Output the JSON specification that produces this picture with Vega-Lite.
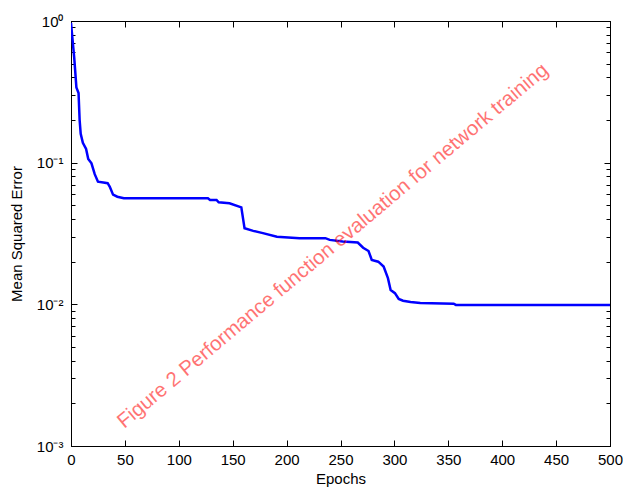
{
  "$schema": "https://vega.github.io/schema/vega-lite/v6.json",
  "width": 539,
  "height": 425,
  "autosize": {"type": "none"},
  "padding": {"left": 71, "top": 21, "right": 13, "bottom": 43},
  "background": "white",
  "config": {
    "view": {"stroke": "black", "strokeWidth": 1},
    "font": "Liberation Sans",
    "axis": {
      "labelFont": "Liberation Sans",
      "titleFont": "Liberation Sans",
      "labelFontSize": 15,
      "titleFontSize": 15,
      "titleFontWeight": "normal",
      "labelColor": "black",
      "titleColor": "black",
      "domainColor": "black",
      "tickColor": "black",
      "tickWidth": 1,
      "grid": false
    }
  },
  "datasets": {
    "curve": [
      {"epoch": 0, "mse": 0.97},
      {"epoch": 1, "mse": 0.8},
      {"epoch": 3, "mse": 0.55},
      {"epoch": 5, "mse": 0.34},
      {"epoch": 7, "mse": 0.31},
      {"epoch": 8, "mse": 0.2},
      {"epoch": 9, "mse": 0.16},
      {"epoch": 11, "mse": 0.138},
      {"epoch": 14, "mse": 0.125},
      {"epoch": 16, "mse": 0.106},
      {"epoch": 19, "mse": 0.099},
      {"epoch": 22, "mse": 0.083},
      {"epoch": 25, "mse": 0.0734},
      {"epoch": 30, "mse": 0.0725},
      {"epoch": 34, "mse": 0.0716},
      {"epoch": 36, "mse": 0.0676},
      {"epoch": 39, "mse": 0.0595},
      {"epoch": 43, "mse": 0.0575},
      {"epoch": 49, "mse": 0.0561},
      {"epoch": 127, "mse": 0.0561},
      {"epoch": 129, "mse": 0.0546},
      {"epoch": 135, "mse": 0.0546},
      {"epoch": 137, "mse": 0.0525},
      {"epoch": 147, "mse": 0.0517},
      {"epoch": 158, "mse": 0.0484},
      {"epoch": 161, "mse": 0.0344},
      {"epoch": 169, "mse": 0.033},
      {"epoch": 178, "mse": 0.0318},
      {"epoch": 191, "mse": 0.03},
      {"epoch": 212, "mse": 0.0293},
      {"epoch": 236, "mse": 0.0293},
      {"epoch": 240, "mse": 0.0285},
      {"epoch": 252, "mse": 0.0278},
      {"epoch": 266, "mse": 0.0273},
      {"epoch": 271, "mse": 0.0251},
      {"epoch": 276, "mse": 0.0238},
      {"epoch": 279, "mse": 0.0206},
      {"epoch": 285, "mse": 0.02},
      {"epoch": 290, "mse": 0.0185},
      {"epoch": 294, "mse": 0.0153},
      {"epoch": 296.5, "mse": 0.0126},
      {"epoch": 300.5, "mse": 0.012},
      {"epoch": 304, "mse": 0.0109},
      {"epoch": 308, "mse": 0.0106},
      {"epoch": 315, "mse": 0.0104},
      {"epoch": 324, "mse": 0.0102},
      {"epoch": 355, "mse": 0.0101},
      {"epoch": 357, "mse": 0.0099},
      {"epoch": 500, "mse": 0.0099}
    ],
    "note": [
      {"epoch": 243, "mse": 0.0258, "label": "Figure 2 Performance function evaluation for network training"}
    ]
  },
  "layer": [
    {
      "data": {"name": "curve"},
      "mark": {"type": "line", "color": "#0000ff", "strokeWidth": 2.5, "clip": true},
      "encoding": {
        "x": {
          "field": "epoch", "type": "quantitative",
          "scale": {"domain": [0, 500], "nice": false, "zero": false},
          "axis": {
            "orient": "bottom", "title": "Epochs",
            "values": [0, 50, 100, 150, 200, 250, 300, 350, 400, 450, 500],
            "tickSize": -6, "labelPadding": 12, "titlePadding": 4,
            "labelFlush": false
          }
        },
        "y": {
          "field": "mse", "type": "quantitative",
          "scale": {"type": "log", "domain": [0.001, 1], "nice": false},
          "axis": {
            "orient": "left", "title": "Mean Squared Error",
            "values": [0.001, 0.002, 0.003, 0.004, 0.005, 0.006, 0.007, 0.008, 0.009, 0.01, 0.02, 0.03, 0.04, 0.05, 0.06, 0.07, 0.08, 0.09, 0.1, 0.2, 0.3, 0.4, 0.5, 0.6, 0.7, 0.8, 0.9, 1],
            "labelExpr": "datum.value == 1 ? '10⁰' : datum.value == 0.1 ? '10⁻¹' : datum.value == 0.01 ? '10⁻²' : datum.value == 0.001 ? '10⁻³' : ''",
            "tickSize": {"condition": {"test": "datum.value == 1 || datum.value == 0.1 || datum.value == 0.01 || datum.value == 0.001", "value": -6}, "value": -4},
            "labelPadding": 14, "titlePadding": 12,
            "labelFlush": false, "labelOverlap": false
          }
        }
      }
    },
    {
      "data": {"name": "note"},
      "mark": {"type": "text", "angle": 320, "color": "#ff0000", "opacity": 0.55, "fontSize": 20.5, "font": "Liberation Sans", "align": "center", "baseline": "middle"},
      "encoding": {
        "text": {"field": "label"},
        "x": {
          "field": "epoch", "type": "quantitative",
          "axis": {
            "orient": "top", "title": null, "labels": false,
            "values": [0, 50, 100, 150, 200, 250, 300, 350, 400, 450, 500],
            "tickSize": -6
          }
        },
        "y": {
          "field": "mse", "type": "quantitative",
          "axis": {
            "orient": "right", "title": null, "labels": false,
            "values": [0.001, 0.002, 0.003, 0.004, 0.005, 0.006, 0.007, 0.008, 0.009, 0.01, 0.02, 0.03, 0.04, 0.05, 0.06, 0.07, 0.08, 0.09, 0.1, 0.2, 0.3, 0.4, 0.5, 0.6, 0.7, 0.8, 0.9, 1],
            "tickSize": {"condition": {"test": "datum.value == 1 || datum.value == 0.1 || datum.value == 0.01 || datum.value == 0.001", "value": -6}, "value": -4}
          }
        }
      }
    }
  ],
  "resolve": {"axis": {"x": "independent", "y": "independent"}}
}
